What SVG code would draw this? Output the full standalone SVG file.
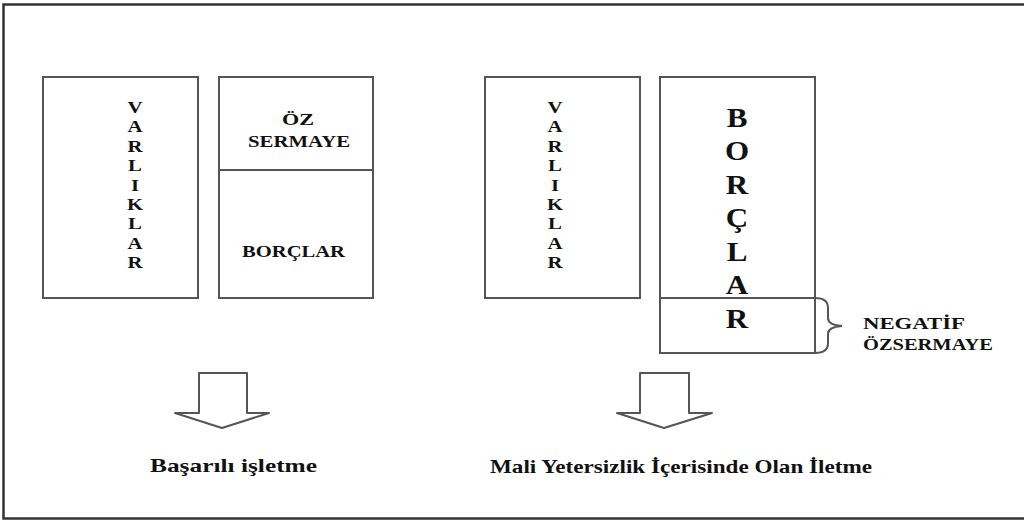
<svg xmlns="http://www.w3.org/2000/svg" width="1024" height="521" viewBox="0 0 1024 521">
<style>
.box{fill:#fff;stroke:#555;stroke-width:2}
.ln{fill:none;stroke:#555;stroke-width:2}
.t{font-family:'Liberation Serif','DejaVu Serif',serif;font-weight:bold;fill:#111}
.v{font-size:16px;text-anchor:middle}
.b{font-size:27px;text-anchor:middle}
.arr{fill:#fff;stroke:#555;stroke-width:2;stroke-linejoin:round}
</style>
<rect x="0" y="0" width="1024" height="521" fill="#fff"/>
<rect x="3.5" y="4.5" width="1030" height="514" fill="none" stroke="#333" stroke-width="2.5"/>

<g id="left-varliklar">
<rect class="box" x="43" y="77" width="155" height="221"/>
<text class="t v" font-family="Liberation Serif, serif" transform="translate(135,0) scale(1.3,1)">
<tspan x="0" y="113">V</tspan><tspan x="0" y="132.4">A</tspan><tspan x="0" y="151.8">R</tspan><tspan x="0" y="171.2">L</tspan><tspan x="0" y="190.6">I</tspan><tspan x="0" y="210">K</tspan><tspan x="0" y="229.4">L</tspan><tspan x="0" y="248.8">A</tspan><tspan x="0" y="268.2">R</tspan>
</text>
</g>

<g id="left-kaynaklar">
<rect class="box" x="219" y="77" width="154" height="221"/>
<line class="ln" x1="219" y1="170" x2="373" y2="170"/>
<text class="t" font-size="17" x="282" y="125" textLength="32" lengthAdjust="spacingAndGlyphs">ÖZ</text>
<text class="t" font-size="17" x="248" y="147" textLength="102" lengthAdjust="spacingAndGlyphs">SERMAYE</text>
<text class="t" font-size="17" x="242" y="257" textLength="103" lengthAdjust="spacingAndGlyphs">BORÇLAR</text>
</g>

<g id="right-varliklar">
<rect class="box" x="485" y="77" width="155" height="221"/>
<text class="t v" transform="translate(555,0) scale(1.3,1)">
<tspan x="0" y="113">V</tspan><tspan x="0" y="132.4">A</tspan><tspan x="0" y="151.8">R</tspan><tspan x="0" y="171.2">L</tspan><tspan x="0" y="190.6">I</tspan><tspan x="0" y="210">K</tspan><tspan x="0" y="229.4">L</tspan><tspan x="0" y="248.8">A</tspan><tspan x="0" y="268.2">R</tspan>
</text>
</g>

<g id="right-borclar">
<rect class="box" x="660" y="77" width="155" height="276"/>
<line class="ln" x1="660" y1="298" x2="815" y2="298"/>
<text class="t b" transform="translate(737,0) scale(1.15,1)">
<tspan x="0" y="127">B</tspan><tspan x="0" y="160.5">O</tspan><tspan x="0" y="194">R</tspan><tspan x="0" y="227.5">Ç</tspan><tspan x="0" y="261">L</tspan><tspan x="0" y="294.5">A</tspan><tspan x="0" y="328">R</tspan>
</text>
</g>

<g id="negatif-ozsermaye">
<path class="ln" d="M815,298 Q828,298 828,308 L828,318 Q828,325 842,326 Q828,327 828,334 L828,343 Q828,353 815,353"/>
<text class="t" font-size="17" x="863" y="329" textLength="102" lengthAdjust="spacingAndGlyphs">NEGATİF</text>
<text class="t" font-size="17" x="863" y="350" textLength="130" lengthAdjust="spacingAndGlyphs">ÖZSERMAYE</text>
</g>

<g id="connectors">
<polygon class="arr" points="199,373 247,373 247,413 269,413 222,428 175,413 199,413"/>
<polygon class="arr" points="640,373 689,373 689,413 712,413 664,428 617,413 640,413"/>
</g>

<g id="sonuc-basarili">
<text class="t" font-size="19" x="150" y="472" textLength="167" lengthAdjust="spacingAndGlyphs">Başarılı işletme</text>
</g>
<g id="sonuc-mali">
<text class="t" font-size="19" x="490" y="473" textLength="382" lengthAdjust="spacingAndGlyphs">Mali Yetersizlik İçerisinde Olan İletme</text>
</g>
</svg>
